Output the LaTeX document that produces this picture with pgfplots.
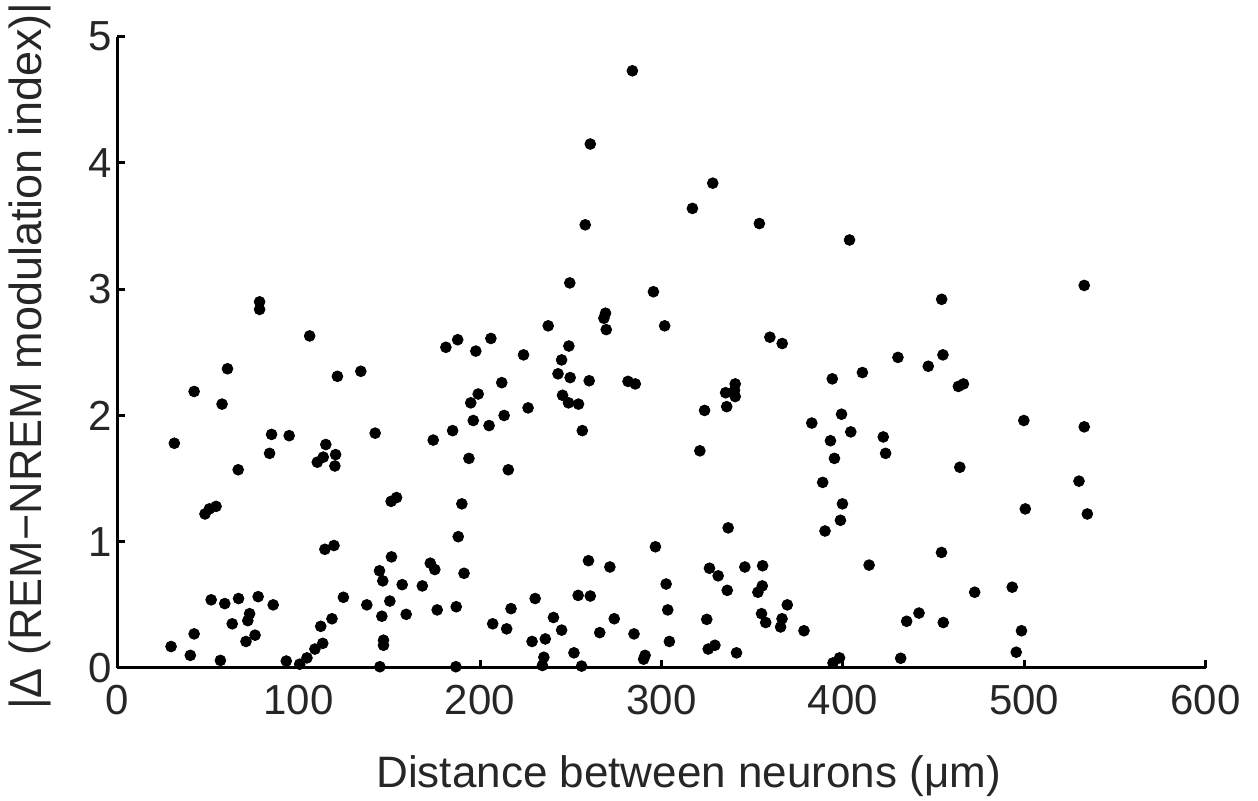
\documentclass[border=0pt]{standalone}
\usepackage{fontspec}
\setmainfont{Liberation Sans}
\usepackage{pgfplots}
\pgfplotsset{compat=1.18}
\definecolor{txt}{HTML}{262626}
\begin{document}
\begin{tikzpicture}
\begin{axis}[
  scale only axis,
  width=544.2pt, height=315.65pt,
  xmin=0, xmax=600, ymin=0, ymax=5,
  axis x line*=bottom, axis y line*=left,
  axis line style={-, line width=1.5pt, black},
  xtick={0,100,...,600}, ytick={0,1,...,5},
  tick align=inside, major tick length=4pt,
  tick style={line width=1.5pt, black},
  /pgf/number format/assume math mode=true,
  tick label style={font=\fontsize{21}{25}\selectfont, text=txt, inner sep=0pt},
  yticklabel style={xshift=-2.5pt},
  xticklabel style={yshift=-8.5pt},
  label style={font=\fontsize{22}{26}\selectfont, text=txt},
  xlabel={Distance between neurons (μm)},
  xlabel style={at={(axis description cs:0.525,-0.1901)}, anchor=base},
  ylabel={|Δ (REM−NREM modulation index)|},
  ylabel style={font=\fontsize{22.5}{26}\selectfont, at={(axis description cs:-0.0799,0.494)}, anchor=center},
  clip=false,
]
\addplot[only marks, mark=*, mark size=2.7pt, black] table {
x y
78.5 2.90
78.5 2.84
106.1 2.63
60.8 2.37
134.3 2.35
42.4 2.19
121.4 2.31
57.8 2.09
31.5 1.78
85.1 1.85
94.8 1.84
84.0 1.70
142.2 1.86
115.0 1.77
113.6 1.67
110.3 1.63
120.4 1.69
120.0 1.60
66.7 1.57
54.5 1.28
50.8 1.26
48.4 1.22
151.0 1.32
154.0 1.35
114.5 0.94
119.5 0.97
151.2 0.88
144.6 0.77
146.4 0.69
51.8 0.54
59.3 0.51
66.9 0.55
77.7 0.565
86.0 0.50
124.7 0.56
137.6 0.50
150.3 0.53
73.0 0.43
72.0 0.375
63.4 0.35
118.4 0.39
112.2 0.33
145.9 0.41
42.4 0.27
76.0 0.26
71.0 0.21
113.3 0.195
146.8 0.22
146.8 0.18
29.7 0.17
109.0 0.15
40.3 0.10
104.6 0.08
56.9 0.06
93.2 0.055
100.6 0.03
144.8 0.01
284.0 4.73
260.8 4.15
258.0 3.51
249.5 3.05
295.6 2.98
269.2 2.81
268.3 2.77
269.6 2.68
237.6 2.71
301.8 2.71
187.7 2.60
206.0 2.61
181.2 2.54
197.7 2.51
249.0 2.55
224.0 2.48
245.0 2.44
243.0 2.33
249.7 2.30
260.2 2.275
281.6 2.27
285.6 2.25
212.0 2.26
199.0 2.17
194.9 2.10
196.3 1.96
205.0 1.92
213.3 2.00
226.5 2.06
245.5 2.16
248.8 2.10
254.3 2.09
256.4 1.88
184.9 1.88
174.2 1.805
193.9 1.66
215.6 1.57
190.0 1.30
188.0 1.04
172.6 0.83
175.1 0.78
191.2 0.75
296.7 0.96
259.8 0.85
271.6 0.80
157.1 0.66
168.2 0.65
159.3 0.425
176.4 0.46
186.9 0.485
230.4 0.55
254.1 0.575
260.8 0.57
302.6 0.665
303.5 0.46
217.1 0.47
207.0 0.35
214.7 0.31
240.5 0.40
245.0 0.30
274.0 0.39
266.0 0.28
284.9 0.27
304.4 0.21
228.7 0.21
236.0 0.23
251.8 0.12
235.2 0.085
291.0 0.10
290.2 0.07
234.4 0.02
256.0 0.015
186.7 0.01
328.3 3.84
317.1 3.64
354.0 3.52
403.7 3.39
454.5 2.92
359.8 2.62
366.6 2.57
430.4 2.46
455.2 2.48
447.1 2.39
410.8 2.34
394.2 2.29
463.7 2.23
466.5 2.25
340.7 2.25
340.3 2.20
340.7 2.15
335.4 2.18
336.0 2.07
323.8 2.04
321.2 1.72
399.3 2.01
382.9 1.94
404.4 1.87
393.2 1.80
422.3 1.83
423.6 1.70
395.4 1.66
464.5 1.59
388.9 1.47
399.8 1.30
398.7 1.17
390.2 1.085
336.8 1.11
454.4 0.915
414.5 0.815
326.5 0.79
331.3 0.73
346.0 0.80
355.8 0.81
355.6 0.65
353.2 0.60
336.3 0.615
369.4 0.50
355.2 0.43
357.5 0.36
366.5 0.39
365.7 0.325
378.6 0.295
325.0 0.385
325.8 0.15
329.5 0.18
341.4 0.12
442.0 0.435
435.2 0.37
455.4 0.36
431.9 0.077
398.2 0.08
394.6 0.04
499.8 1.96
533.1 1.91
530.2 1.48
500.6 1.26
534.8 1.22
472.7 0.60
493.4 0.64
498.5 0.295
495.6 0.125
533.1 3.03
};
\end{axis}
\pgfresetboundingbox
\path (-58.6pt,-66.5pt) rectangle (570.4pt,334pt);
\end{tikzpicture}
\end{document}
